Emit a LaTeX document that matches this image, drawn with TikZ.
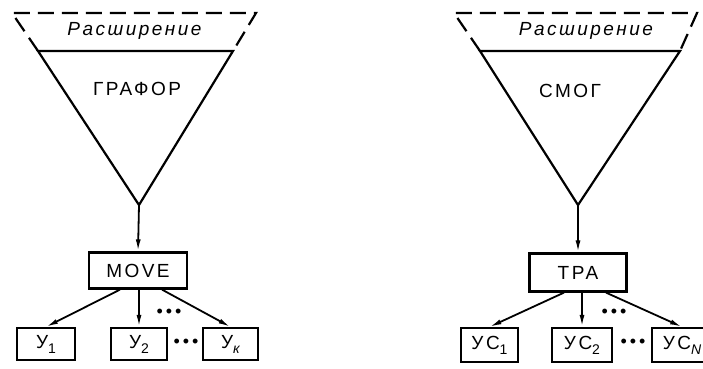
\documentclass[tikz,border=0pt]{standalone}
\usepackage{fontspec}
\setmainfont{Liberation Sans}[LetterSpace=13]
\usetikzlibrary{arrows.meta}
\newcommand{\subt}[1]{\raisebox{-5pt}{\fontsize{14}{15}\selectfont #1}}
\tikzset{
  ln/.style={line width=2.2pt},
  dsh/.style={line width=2.2pt, dash pattern=on 16pt off 8pt},
  arr/.style={line width=1.8pt, -{Latex[length=12pt,width=5pt]}},
  box/.style={draw, line width=2.2pt, inner sep=0pt, font=\fontsize{19}{22}\selectfont},
  lbl/.style={inner sep=0pt, font=\fontsize{19}{22}\selectfont},
  ital/.style={inner sep=0pt, font=\fontsize{19}{22}\selectfont\itshape},
  dots/.style={inner sep=0pt, font=\fontsize{18}{18}\selectfont}
}
\begin{document}
\begin{tikzpicture}[x=1pt,y=-1pt]
\clip (0,0) rectangle (703,368);
% ---------- left ----------
\coordinate (l1) at (12,13);
\coordinate (l2) at (256,13);
\coordinate (l3) at (38,51);
\coordinate (l4) at (233,51);
\coordinate (la) at (139,205);
\draw[dsh] (l3) -- (l1) -- (l2) -- (l4);
\draw[ln] (l3) -- (l4) -- (la) -- cycle;
\node[ital] (ext1) at (134.5,31) {Расширение};
\node[lbl] (graf) at (137,89) {ГРАФОР};
\node[box, minimum width=98pt, minimum height=36pt] (move) at (138,270.5) {MOVE};
\node[box, minimum width=58pt, minimum height=32pt] (y1) at (46,344) {У\subt{1}};
\node[box, minimum width=56pt, minimum height=32pt] (y2) at (139,344) {У\subt{2}};
\node[box, minimum width=55pt, minimum height=32pt] (yk) at (230.5,344) {У\subt{\itshape к}};
\node[dots] (d1) at (169,313) {•\,•\,•};
\node[dots] (d2) at (186,343) {•\,•\,•};
\draw[arr] (la) -- (move.north);
\draw[arr] ([xshift=-18pt]move.south) -- (y1.north);
\draw[arr] (move.south -| y2.north) -- (y2.north);
\draw[arr] ([xshift=24pt]move.south) -- (yk.north);
% ---------- right ----------
\coordinate (r1) at (454,13);
\coordinate (r2) at (697,13);
\coordinate (r3) at (480,51);
\coordinate (r4) at (680,51);
\coordinate (ra) at (578,205);
\draw[dsh] (r3) -- (r1) -- (r2) -- (r4);
\draw[ln] (r3) -- (r4) -- (ra) -- cycle;
\node[ital] (ext2) at (586,31) {Расширение};
\node[lbl] (smog) at (570,91) {СМОГ};
\node[box, minimum width=97pt, minimum height=38pt] (tpa) at (578,272.5) {ТРА};
\node[box, minimum width=57pt, minimum height=34pt] (yc1) at (489.5,345) {УС\subt{1}};
\node[box, minimum width=60pt, minimum height=34pt] (yc2) at (582,345) {УС\subt{2}};
\node[box, minimum width=60pt, minimum height=34pt] (ycn) at (682,345) {УС\subt{\itshape N}\hspace{6pt}};
\node[dots] (d3) at (614,313) {•\,•\,•};
\node[dots] (d4) at (633,343) {•\,•\,•};
\draw[arr] (ra) -- (tpa.north);
\draw[arr] ([xshift=-14pt]tpa.south) -- (yc1.north);
\draw[arr] (tpa.south -| yc2.north) -- (yc2.north);
\draw[arr] ([xshift=28pt]tpa.south) -- (ycn.north);
\end{tikzpicture}
\end{document}
